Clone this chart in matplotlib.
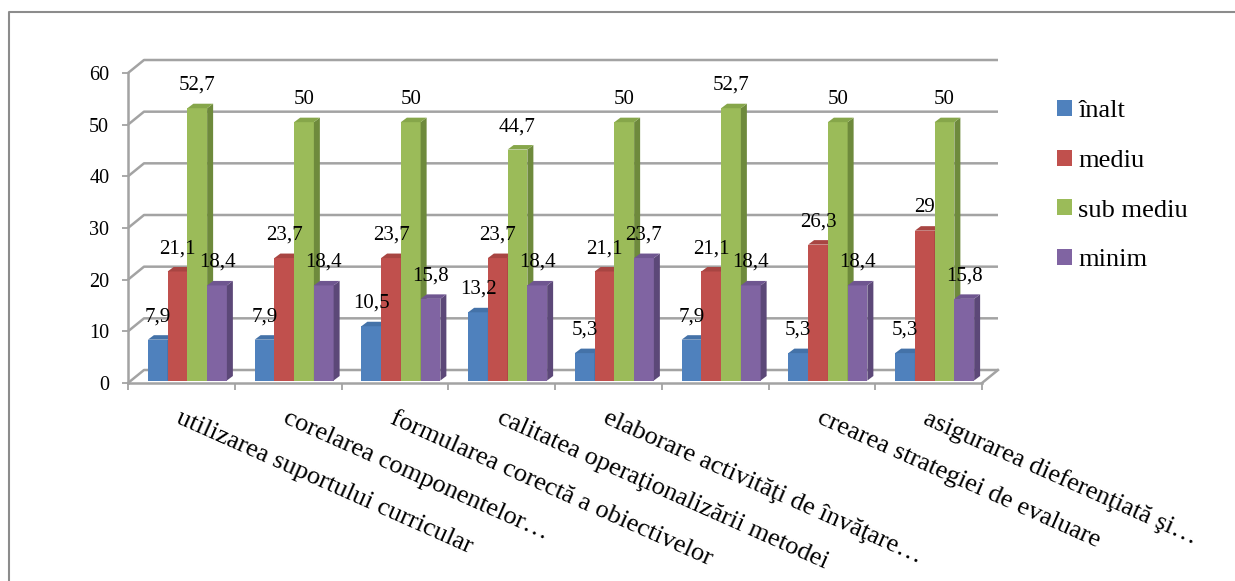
import matplotlib
matplotlib.use("Agg")
import matplotlib.pyplot as plt
import matplotlib.transforms as mtransforms
from matplotlib.patches import Polygon, Patch
from matplotlib.lines import Line2D
import numpy as np

plt.rcParams['font.family'] = ['Liberation Serif', 'DejaVu Serif']

categories = [
    "utilizarea suportului curricular",
    "corelarea componentelor…",
    "formularea corectă a obiectivelor",
    "calitatea operaţionalizării metodei",
    "elaborare activităţi de învăţare…",
    "",
    "crearea strategiei de evaluare",
    "asigurarea dieferenţiată şi…",
]
series_names = ["înalt", "mediu", "sub mediu", "minim"]
inalt = [7.9, 7.9, 10.5, 13.2, 5.3, 7.9, 5.3, 5.3]
mediu = [21.1, 23.7, 23.7, 23.7, 21.1, 21.1, 26.3, 29]
sub_mediu = [52.7, 50, 50, 44.7, 50, 52.7, 50, 50]
minim = [18.4, 18.4, 15.8, 18.4, 23.7, 18.4, 18.4, 15.8]
yticks = [0, 10, 20, 30, 40, 50, 60]

front_colors = ["#4F81BD", "#C0504D", "#9BBB59", "#8064A2"]
side_colors = ["#3A6394", "#933A38", "#6E8A3C", "#5C4878"]
top_colors = ["#4472A8", "#A84542", "#86A64A", "#6F5690"]

W, H, DPI = 1235, 581, 100
fig = plt.figure(figsize=(W / DPI, H / DPI), dpi=DPI)

# plot area (front plane) in pixels
x0, x1, y_top, y_bot = 128, 982, 73, 383
ax = fig.add_axes([x0 / W, (H - y_bot) / H, (x1 - x0) / W, (y_bot - y_top) / H])
n = len(categories)
ax.set_xlim(-0.5, n - 0.5)
ax.set_ylim(0, 60)
ax.patch.set_alpha(0)

px_x = (x1 - x0) / n          # pixels per category
px_y = (y_bot - y_top) / 60   # pixels per unit

grid_c = "#A3A3A3"
# depth offset of back wall (data units)
ddx, ddy = 16 / px_x, 13 / px_y
for v in yticks:
    ax.plot([-0.5, -0.5 + ddx, n - 0.5 + ddx], [v, v + ddy, v + ddy],
            color=grid_c, lw=1.8, clip_on=False, zorder=1, solid_capstyle='butt')
# floor right edge
ax.plot([n - 0.5, n - 0.5 + ddx], [0, ddy], color=grid_c, lw=1.8, clip_on=False, zorder=1)

for s in ['top', 'right']:
    ax.spines[s].set_visible(False)
for s in ['left', 'bottom']:
    ax.spines[s].set_color(grid_c)
    ax.spines[s].set_linewidth(1.8)
    ax.spines[s].set_zorder(1.5)

ax.set_yticks(yticks)
ax.set_yticklabels([str(v) for v in yticks], fontsize=14.5)
ax.tick_params(axis='y', length=4.5, width=1.3, color=grid_c, pad=9)
ax.set_xticks(np.arange(-0.5, n, 1.0))
ax.set_xticklabels([])
ax.tick_params(axis='x', length=5, width=1.3, color=grid_c)

# bars: front faces shifted slightly into depth
shift = mtransforms.ScaledTranslation(6 / DPI, 2.5 / DPI, fig.dpi_scale_trans)
trans = ax.transData + shift
bw = 19.75 / px_x
sdx, sdy = 6 / px_x, 4.5 / px_y
series = [inalt, mediu, sub_mediu, minim]
for g in range(n):
    for k, vals in enumerate(series):
        v = vals[g]
        left = g - 2 * bw + k * bw
        right = left + bw
        z = 3 + k * 0.1
        ax.bar(left, v, width=bw, align='edge', color=front_colors[k],
               transform=trans, zorder=z, clip_on=False)
        side = Polygon([(right, 0), (right, v), (right + sdx, v + sdy), (right + sdx, sdy)],
                       closed=True, facecolor=side_colors[k], edgecolor='none',
                       transform=trans, zorder=z, clip_on=False)
        top = Polygon([(left, v), (right, v), (right + sdx, v + sdy), (left + sdx, v + sdy)],
                      closed=True, facecolor=top_colors[k], edgecolor='none',
                      transform=trans, zorder=z, clip_on=False)
        ax.add_patch(side)
        ax.add_patch(top)
        ax.annotate(f"{v:g}".replace('.', ','), xy=(left + bw / 2, v), xycoords=trans,
                    xytext=(0, 16.5), textcoords='offset points', ha='center', va='center',
                    fontsize=15, zorder=10, annotation_clip=False)

# category labels, rotated
lbl_trans = ax.transData + mtransforms.ScaledTranslation(1 / DPI, -24 / DPI, fig.dpi_scale_trans)
for g, name in enumerate(categories):
    ax.text(g, 0, name, transform=lbl_trans, rotation=-24, rotation_mode='anchor',
            ha='left', va='top', fontsize=19, clip_on=False)

# legend
handles = [Patch(facecolor=c, edgecolor='none') for c in front_colors]
fig.legend(handles, series_names, loc='upper left',
           bbox_to_anchor=(1057 / W, 1 - 100 / H), frameon=False, fontsize=19,
           handlelength=0.55, handleheight=0.55, handletextpad=0.25,
           labelspacing=1.04, borderpad=0, borderaxespad=0)

# outer chart border
fig.add_artist(Line2D([9 / W, 9 / W, 1.0], [0, 1 - 12 / H, 1 - 12 / H],
                      transform=fig.transFigure, color="#8C8C8C", lw=1.5))

fig.savefig("out.png", dpi=DPI)
